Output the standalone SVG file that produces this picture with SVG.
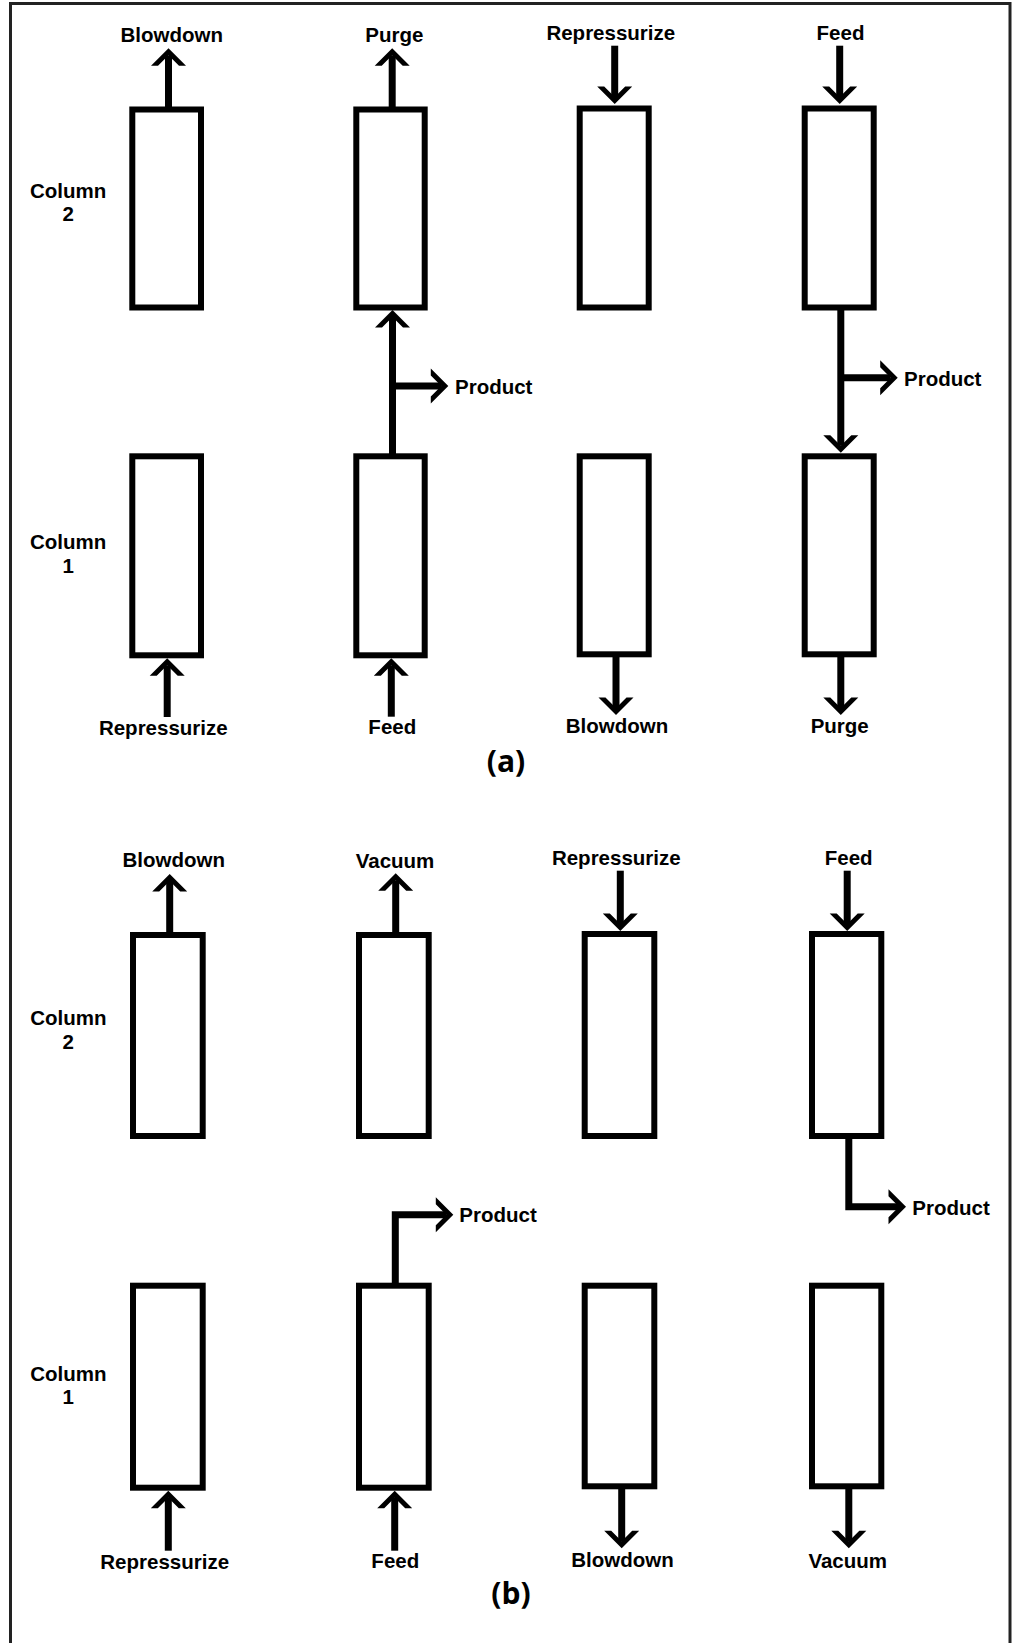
<svg xmlns="http://www.w3.org/2000/svg" width="1013" height="1643" viewBox="0 0 1013 1643">
<style>
.box{fill:#fff;stroke:#000;stroke-width:6}
.ln{fill:none;stroke:#000;stroke-width:7;stroke-linejoin:miter;marker-end:url(#ah)}
text{font-family:"Liberation Sans",Arial,sans-serif;font-weight:bold;font-size:20.5px;fill:#000}
.m{text-anchor:middle}
.cap{font-family:"Open Sans","Liberation Sans",sans-serif;font-size:30px;text-anchor:middle}
</style>
<defs>
<marker id="ah" markerUnits="userSpaceOnUse" viewBox="-20 -20 22 40" markerWidth="22" markerHeight="40" refX="-7" refY="0" orient="auto" overflow="visible">
<path d="M0,0 L-17.5,17.5 L-17.5,10.5 L-7,0 L-17.5,-10.5 L-17.5,-17.5 Z" fill="#000"/>
</marker>
</defs>
<rect x="10.5" y="3.5" width="999.5" height="1700" fill="#fff" stroke="#222" stroke-width="3"/>

<g id="panel-a">
<g id="a-c2-s1"><rect class="box" x="132.3" y="109.5" width="68.7" height="198"/></g>
<g id="a-c2-s2"><rect class="box" x="356.3" y="109.5" width="68.4" height="198"/></g>
<g id="a-c2-s3"><rect class="box" x="579.7" y="108.5" width="69" height="199"/></g>
<g id="a-c2-s4"><rect class="box" x="804.7" y="108.5" width="69" height="199"/></g>
<g id="a-c1-s1"><rect class="box" x="132.3" y="456.3" width="68.7" height="199"/></g>
<g id="a-c1-s2"><rect class="box" x="356.3" y="456.3" width="68.4" height="199"/></g>
<g id="a-c1-s3"><rect class="box" x="579.7" y="456.3" width="69" height="198"/></g>
<g id="a-c1-s4"><rect class="box" x="804.7" y="456.3" width="69" height="198"/></g>
</g>

<g id="panel-b">
<g id="b-c2-s1"><rect class="box" x="133" y="935" width="69.7" height="201"/></g>
<g id="b-c2-s2"><rect class="box" x="359" y="935" width="69.7" height="201"/></g>
<g id="b-c2-s3"><rect class="box" x="584.7" y="934" width="69.6" height="202"/></g>
<g id="b-c2-s4"><rect class="box" x="812" y="934" width="69.3" height="202"/></g>
<g id="b-c1-s1"><rect class="box" x="133" y="1285.7" width="69.7" height="202"/></g>
<g id="b-c1-s2"><rect class="box" x="359" y="1285.7" width="69.7" height="202"/></g>
<g id="b-c1-s3"><rect class="box" x="584.7" y="1285.7" width="69.6" height="200.6"/></g>
<g id="b-c1-s4"><rect class="box" x="812" y="1285.7" width="69.3" height="200.6"/></g>
</g>

<g id="connectors">
<path class="ln" d="M168.5,107 V55.3"/>
<path class="ln" d="M392.2,107 V55.3"/>
<path class="ln" d="M614.7,45.7 V97"/>
<path class="ln" d="M839.7,45.7 V97"/>
<path class="ln" d="M392.5,454 V317"/>
<path class="ln" d="M392.5,386 H441.3"/>
<path class="ln" d="M840.8,310 V445.7"/>
<path class="ln" d="M840.8,377.8 H890.7"/>
<path class="ln" d="M167.2,717 V665.3"/>
<path class="ln" d="M391.3,716.7 V665.3"/>
<path class="ln" d="M616,657 V708"/>
<path class="ln" d="M840.8,657 V708"/>

<path class="ln" d="M169.7,933 V881"/>
<path class="ln" d="M395.7,933 V880.3"/>
<path class="ln" d="M620.3,870.7 V924"/>
<path class="ln" d="M847.2,870.7 V924"/>
<path class="ln" d="M395.3,1283 V1214.8 H446.3"/>
<path class="ln" d="M848.8,1139 V1206.7 H899"/>
<path class="ln" d="M168.3,1550.7 V1497.7"/>
<path class="ln" d="M394.7,1550.7 V1497.7"/>
<path class="ln" d="M621.7,1489 V1541.3"/>
<path class="ln" d="M848.8,1489 V1541.3"/>
</g>

<g id="labels-a">
<text class="m" x="171.7" y="41.7">Blowdown</text>
<text class="m" x="394.3" y="41.7">Purge</text>
<text class="m" x="610.8" y="40">Repressurize</text>
<text class="m" x="840.5" y="40">Feed</text>
<text class="m" x="68.2" y="197.7">Column</text>
<text class="m" x="68.2" y="221">2</text>
<text x="455" y="393.5">Product</text>
<text x="904" y="386">Product</text>
<text class="m" x="68.2" y="549.3">Column</text>
<text class="m" x="68.2" y="573.3">1</text>
<text class="m" x="163.3" y="735">Repressurize</text>
<text class="m" x="392.3" y="734.3">Feed</text>
<text class="m" x="617" y="733.3">Blowdown</text>
<text class="m" x="839.7" y="732.7">Purge</text>
<text class="cap" x="506" y="772">(a)</text>
</g>

<g id="labels-b">
<text class="m" x="173.7" y="866.7">Blowdown</text>
<text class="m" x="395" y="868.3">Vacuum</text>
<text class="m" x="616.3" y="865">Repressurize</text>
<text class="m" x="848.7" y="865">Feed</text>
<text class="m" x="68.3" y="1025">Column</text>
<text class="m" x="68.3" y="1049.3">2</text>
<text x="459.3" y="1222">Product</text>
<text x="912.3" y="1215">Product</text>
<text class="m" x="68.3" y="1381">Column</text>
<text class="m" x="68.3" y="1404.3">1</text>
<text class="m" x="164.7" y="1569.3">Repressurize</text>
<text class="m" x="395.3" y="1567.7">Feed</text>
<text class="m" x="622.5" y="1566.7">Blowdown</text>
<text class="m" x="847.7" y="1568.3">Vacuum</text>
<text class="cap" x="511" y="1604">(b)</text>
</g>
</svg>
